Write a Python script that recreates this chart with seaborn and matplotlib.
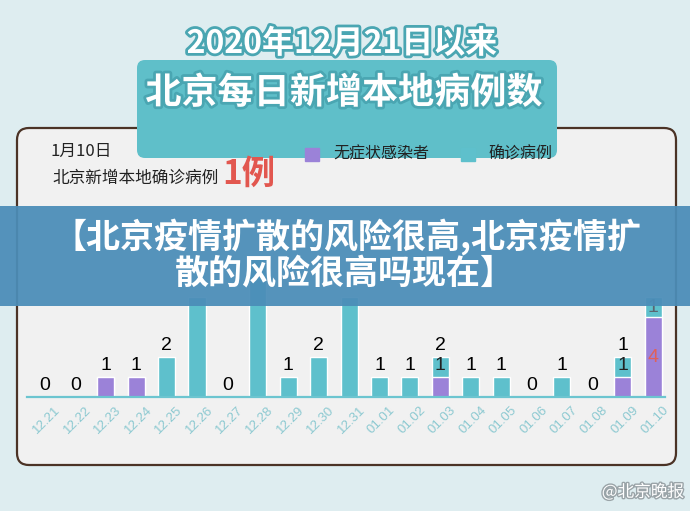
import matplotlib
matplotlib.use("Agg")
import matplotlib.pyplot as plt
import matplotlib.patheffects as pe
import matplotlib.transforms as mtransforms
from matplotlib.patches import FancyBboxPatch, Rectangle
import seaborn as sns

# daily new local cases in Beijing since 2020-12-21
dates = ["12.21", "12.22", "12.23", "12.24", "12.25", "12.26", "12.27", "12.28",
         "12.29", "12.30", "12.31", "01.01", "01.02", "01.03", "01.04", "01.05",
         "01.06", "01.07", "01.08", "01.09", "01.10"]
asymptomatic = [0, 0, 1, 1, 0, 0, 0, 0, 0, 0, 0, 0, 0, 1, 0, 0, 0, 0, 0, 1, 4]
confirmed = [0, 0, 0, 0, 2, 5, 0, 7, 1, 2, 5, 1, 1, 1, 1, 1, 0, 1, 0, 1, 1]
total = [a + c for a, c in zip(asymptomatic, confirmed)]
# numbers printed above the bars (the ones under the banner are hidden)
top_labels = ["0", "0", "1", "1", "2", "", "0", "", "1", "2", "", "1", "1", "2",
              "1", "1", "0", "1", "0", "1", ""]
# numbers printed inside the cyan part of the stacked bars
inner_labels = {13: "1", 19: "1"}

PURPLE = "#9b82d8"
CYAN = "#5ec0cc"
W, H = 690, 511


def fx(px):
    return px / W


def fy(py):
    return 1 - py / H


def inch(px, py):
    return px / 100, (H - py) / 100


sns.set_style("white")
plt.rcParams["font.family"] = ["Noto Sans CJK SC", "DejaVu Sans"]

fig = plt.figure(figsize=(6.9, 5.11), dpi=100)
fig.patch.set_facecolor("#deedf0")

# panel with dark border
x0, y0 = inch(17, 465)
panel = FancyBboxPatch((x0, y0), 659 / 100, 337 / 100,
                       boxstyle="round,pad=0,rounding_size=0.12",
                       transform=fig.dpi_scale_trans, facecolor="#f1f1f1",
                       edgecolor="#4b3326", linewidth=1.6, zorder=-2)
fig.add_artist(panel)

# title box
x0, y0 = inch(137, 158)
tbox = FancyBboxPatch((x0, y0), 420 / 100, 98 / 100,
                      boxstyle="round,pad=0,rounding_size=0.08",
                      transform=fig.dpi_scale_trans, facecolor="#5fbfc9",
                      edgecolor="none", zorder=-1)
fig.add_artist(tbox)
outline = [pe.withStroke(linewidth=4, foreground="#4aa6b2")]
fig.text(fx(342), fy(44), "2020年12月21日以来", ha="center", va="center",
         fontsize=23, color="white", fontweight="bold", path_effects=outline)
fig.text(fx(344), fy(93), "北京每日新增本地病例数", ha="center", va="center",
         fontsize=26, color="white", fontweight="bold", path_effects=outline)

# top left note
fig.text(fx(50), fy(151), "1月10日", ha="left", va="center", fontsize=12, color="#222222")
fig.text(fx(52), fy(178), "北京新增本地确诊病例", ha="left", va="center", fontsize=12,
         color="#222222")
fig.text(fx(222), fy(174), "1例", ha="left", va="center", fontsize=24, color="#e2574f",
         fontweight="bold")

# legend
fig.add_artist(Rectangle((fx(305), fy(161)), 14 / W, 13 / H, transform=fig.transFigure,
                         color=PURPLE))
fig.text(fx(333), fy(154), "无症状感染者", ha="left", va="center", fontsize=11.5,
         color="#222222")
fig.add_artist(Rectangle((fx(461), fy(161)), 14 / W, 13 / H, transform=fig.transFigure,
                         color=CYAN))
fig.text(fx(488), fy(154), "确诊病例", ha="left", va="center", fontsize=11.5,
         color="#222222")

# bar chart
ax = fig.add_axes([fx(27), fy(397), (665 - 27) / W, 160 / H])
ax.patch.set_visible(False)
sns.barplot(x=dates, y=total, color=CYAN, saturation=1, width=0.56, ax=ax)
sns.barplot(x=dates, y=asymptomatic, color=PURPLE, saturation=1, width=0.56, ax=ax)
ax.set_xlim(-0.59, 20.39)
ax.set_ylim(0, 8)
ax.set_yticks([])
ax.set_xticks(range(len(dates)))
ax.set_xticklabels(dates, rotation=45, ha="right", rotation_mode="anchor",
                   fontsize=9.5, color="#8cc9d1", family="Liberation Sans")
ax.tick_params(axis="x", length=0, pad=5)
shift = mtransforms.ScaledTranslation(7 / 72, 0, fig.dpi_scale_trans)
for lbl in ax.get_xticklabels():
    lbl.set_transform(lbl.get_transform() + shift)
for side in ["left", "right", "top"]:
    ax.spines[side].set_visible(False)
ax.spines["bottom"].set_color("#6cc5d0")
ax.spines["bottom"].set_linewidth(1.6)

for i, (t, lab) in enumerate(zip(total, top_labels)):
    if lab:
        ax.annotate(lab, (i, t), xytext=(0, 2), textcoords="offset points",
                    ha="center", va="bottom", fontsize=14, color="black",
                    family="Liberation Sans")
for i, lab in inner_labels.items():
    ax.text(i, asymptomatic[i] + confirmed[i] / 2 + 0.1, lab, ha="center", va="center",
            fontsize=14, color="#222222", family="Liberation Sans")

# last day: both parts labelled inside the bar
last = len(dates) - 1
ax.text(last, asymptomatic[last] + confirmed[last] / 2, str(confirmed[last]),
        ha="center", va="center", fontsize=14, color="#5a6570", family="Liberation Sans")
ax.text(last, asymptomatic[last] / 2, str(asymptomatic[last]), ha="center", va="center",
        fontsize=14, color="#e0605a", family="Liberation Sans")

# overlay banner
fig.add_artist(Rectangle((0, fy(306)), 1, 100 / H, transform=fig.transFigure,
                         facecolor="#4b8db8", alpha=0.94, edgecolor="none", zorder=5))
fig.text(fx(347), fy(237), "【北京疫情扩散的风险很高,北京疫情扩", ha="center", va="center",
         fontsize=24.5, color="white", fontweight="bold", zorder=6)
fig.text(fx(345), fy(273), "散的风险很高吗现在】", ha="center", va="center",
         fontsize=24.5, color="white", fontweight="bold", zorder=6)

# watermark
fig.text(fx(684), fy(492), "@北京晚报", ha="right", va="center", fontsize=12,
         color="white", path_effects=[pe.withStroke(linewidth=2, foreground="#9aa4a8")])

fig.savefig("out.png", dpi=100)
